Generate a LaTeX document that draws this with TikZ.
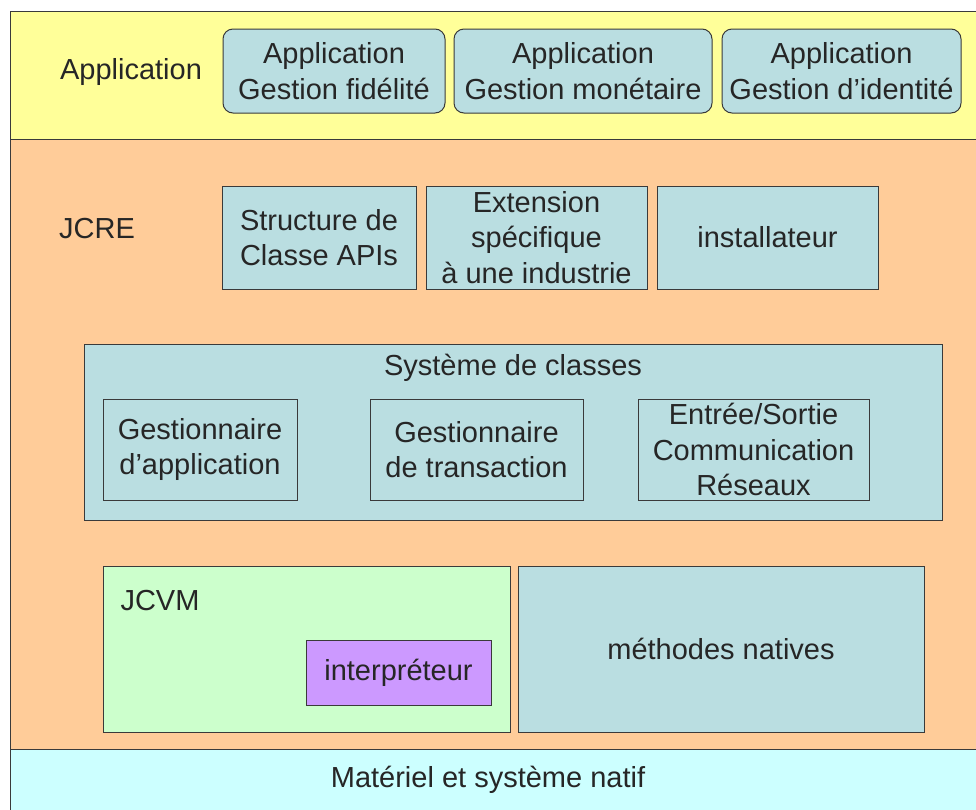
\documentclass[tikz,border=0pt]{standalone}
\usepackage{fontspec}
\setmainfont{Liberation Sans}
\usepackage{tikz}
\usetikzlibrary{positioning}
\definecolor{bandapp}{HTML}{FFFF99}
\definecolor{bandjcre}{HTML}{FFCC99}
\definecolor{bandhw}{HTML}{CCFFFF}
\definecolor{boxblue}{HTML}{BADEE1}
\definecolor{boxgreen}{HTML}{CCFFCC}
\definecolor{boxpurple}{HTML}{CC99FF}
\definecolor{edge}{HTML}{3A3A3A}

\begin{document}
\begin{tikzpicture}[x=1pt, y=-1pt,
	every node/.style={font=\fontsize{29}{35.5}\selectfont, text=black!85, align=center, inner sep=0pt},
	bloc/.style={draw=edge, line width=1pt, fill=boxblue},
	appbloc/.style={bloc, rounded corners=10pt},
	band/.style={draw=edge, line width=1pt}]
\useasboundingbox (0,0) rectangle (976,809);
\clip (0,0) rectangle (976,809);
\fill[white] (0,0) rectangle (976,809);
\draw[band, fill=bandapp] (10,11) rectangle (990,139);
\draw[band, fill=bandjcre] (10,139) rectangle (990,749);
\draw[band, fill=bandhw] (10,749) rectangle (990,830);

\node (lapp) at (131,72) {Application};
\node[appbloc, minimum width=222pt, minimum height=84pt] (fidel) at (334,71) {Application\\Gestion fidélité};
\node[appbloc, minimum width=258pt, minimum height=84pt] (monet) at (583,71) {Application\\Gestion monétaire};
\node[appbloc, minimum width=239pt, minimum height=84pt] (ident) at (841.5,71) {Application\\Gestion d’identité};

\node (ljcre) at (97,229) {JCRE};
\node[bloc, minimum width=194pt, minimum height=103pt] (api) at (319,237.5) {Structure de\\Classe APIs};
\node[bloc, minimum width=221pt, minimum height=103pt] (ext) at (536.5,237.5) {Extension\\spécifique\\à une industrie};
\node[bloc, minimum width=221pt, minimum height=103pt] (inst) at (767.5,237.5) {installateur};

\node[bloc, minimum width=858pt, minimum height=176pt] (syst) at (513,432) {};
\node (lsyst) at (513,368) {Système de classes};
\node[bloc, minimum width=194pt, minimum height=101pt] (gapp) at (200,449.5) {Gestionnaire\\d’application};
\node[bloc, minimum width=213pt, minimum height=101pt] (gtrans) at (476.5,449.5) {Gestionnaire\\de transaction};
\node[bloc, minimum width=231pt, minimum height=101pt] (es) at (753.5,449.5) {Entrée/Sortie\\Communication\\Réseaux};

\node[bloc, fill=boxgreen, minimum width=407pt, minimum height=166pt] (jcvm) at (306.5,649) {};
\node (ljcvm) at (160,601) {JCVM};
\node[bloc, fill=boxpurple, minimum width=185pt, minimum height=65pt] (interp) at (398.5,672.5) {interpréteur};
\node[bloc, minimum width=406pt, minimum height=166pt] (natif) at (721,649) {méthodes natives};

\node (hw) at (488,780) {Matériel et système natif};
\end{tikzpicture}
\end{document}
